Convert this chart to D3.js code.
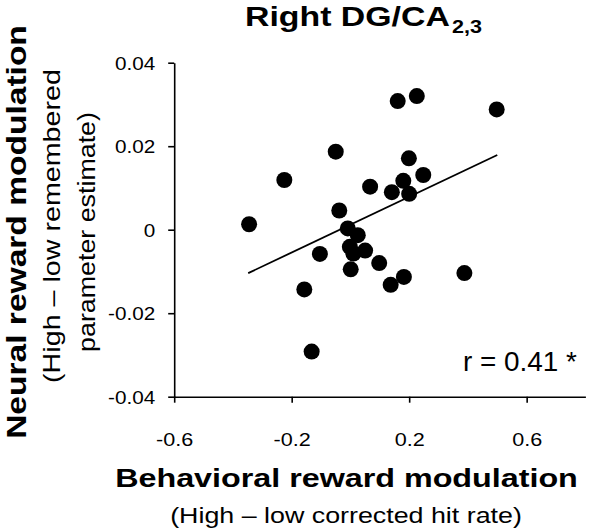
<!DOCTYPE html>
<html>
<head>
<meta charset="utf-8">
<script src="https://cdn.jsdelivr.net/npm/d3@7"></script>
<style>
  html, body { margin: 0; padding: 0; background: #fff; }
  svg { display: block; }
  text { font-family: "Liberation Sans", Arial, sans-serif; fill: #000; }
</style>
</head>
<body>
<svg id="chart" width="600" height="531"></svg>
<script>
// ---- data ----
const behavioral = [-0.345, -0.225, -0.157, -0.132, -0.104, -0.050, -0.038, -0.009, -0.002, 0.010,
                    0.025, 0.001, 0.050, 0.067, 0.098, 0.137, 0.141, 0.161, 0.180, 0.182,
                    0.199, 0.200, 0.226, 0.248, 0.388, 0.498];
const neural = [0.0013, 0.0119, -0.0143, -0.0292, -0.0058, 0.0187, 0.0046, 0.0003, -0.0041, -0.0057,
                -0.0013, -0.0095, -0.0050, 0.0103, -0.0080, -0.0132, 0.0090, 0.0308, 0.0117, -0.0113,
                0.0171, 0.0086, 0.0320, 0.0131, -0.0104, 0.0288];
const fitX = [-0.348, 0.500];
const fitY = [-0.0104, 0.0179];
const xTicks = [-0.6, -0.2, 0.2, 0.6];
const xTickLabels = ["-0.6", "-0.2", "0.2", "0.6"];
const yTicks = [-0.04, -0.02, 0, 0.02, 0.04];
const yTickLabels = ["-0.04", "-0.02", "0", "0.02", "0.04"];
const titleMain = "Right DG/CA";
const titleSub = "2,3";
const xTitle = "Behavioral reward modulation";
const xSubtitle = "(High \u2013 low corrected hit rate)";
const yTitle = "Neural reward modulation";
const ySub1 = "(High \u2013 low remembered";
const ySub2 = "parameter estimate)";
const rLabel = "r = 0.41 *";

// ---- layout ----
const svg = d3.select("#chart");
const x = d3.scaleLinear().domain([-0.6, 0.8]).range([174.2, 585.4]);
const y = d3.scaleLinear().domain([-0.04, 0.04]).range([396.7, 62.7]);

// text helper: stretches the text along its direction so that it spans `len` pixels
function label(str, tx, ty, opts) {
  const o = Object.assign({size: 18, weight: "normal", anchor: "start", len: null, rot: 0}, opts || {});
  const t = svg.append("text")
    .attr("text-anchor", o.anchor)
    .style("font-size", o.size + "px")
    .style("font-weight", o.weight)
    .text(str);
  let sx = 1;
  if (o.len) {
    const natural = t.node().getComputedTextLength();
    if (natural > 0) sx = o.len / natural;
  }
  t.attr("transform", `translate(${tx},${ty}) rotate(${o.rot}) scale(${sx},1)`);
  return t;
}

// axes
const xAxis = d3.axisBottom(x).tickValues(xTicks).tickSize(6).tickSizeOuter(0)
  .tickFormat((d, i) => xTickLabels[i]);
const gx = svg.append("g").attr("transform", `translate(0,${y(-0.04)})`).call(xAxis);
gx.select(".domain").attr("stroke", "#000").attr("stroke-width", 1.6);
gx.selectAll(".tick line").attr("stroke", "#000").attr("stroke-width", 1.6);
gx.selectAll(".tick text")
  .attr("y", null).attr("dy", null)
  .attr("transform", "translate(0,49) scale(1.2,1)")
  .attr("fill", "#000")
  .style("font-size", "18px")
  .style("font-family", '"Liberation Sans", Arial, sans-serif');

const yAxis = d3.axisLeft(y).tickValues(yTicks).tickSize(6).tickSizeOuter(0)
  .tickFormat((d, i) => yTickLabels[i]);
const gy = svg.append("g").attr("transform", `translate(${x(-0.6)},0)`).call(yAxis);
gy.select(".domain").attr("stroke", "#000").attr("stroke-width", 1.6);
gy.selectAll(".tick line").attr("stroke", "#000").attr("stroke-width", 1.6);
gy.selectAll(".tick text")
  .attr("x", null).attr("dy", "0.35em")
  .attr("transform", "translate(-19,0) scale(1.15,1)")
  .attr("fill", "#000")
  .style("font-size", "18px")
  .style("font-family", '"Liberation Sans", Arial, sans-serif');

// fit line
svg.append("line")
  .attr("x1", x(fitX[0])).attr("y1", y(fitY[0]))
  .attr("x2", x(fitX[1])).attr("y2", y(fitY[1]))
  .attr("stroke", "#000").attr("stroke-width", 1.8);

// points
svg.append("g").selectAll("circle")
  .data(behavioral.map((b, i) => [b, neural[i]]))
  .join("circle")
  .attr("cx", d => x(d[0]))
  .attr("cy", d => y(d[1]))
  .attr("r", 8)
  .attr("fill", "#000");

// title
label(titleMain, 245, 26, {size: 28, weight: "bold", len: 205});
label(titleSub, 452, 33, {size: 18, weight: "bold", len: 30});

// r label
label(rLabel, 463, 370.5, {size: 27, len: 114});

// x titles
label(xTitle, 346.5, 487, {size: 26.5, weight: "bold", anchor: "middle", len: 463});
label(xSubtitle, 346, 523, {size: 22, anchor: "middle", len: 352});

// y titles
label(yTitle, 26, 232, {size: 27, weight: "bold", anchor: "middle", len: 414, rot: -90});
label(ySub1, 60, 226, {size: 23, anchor: "middle", len: 314, rot: -90});
label(ySub2, 95, 232, {size: 23, anchor: "middle", len: 240, rot: -90});
</script>
</body>
</html>
